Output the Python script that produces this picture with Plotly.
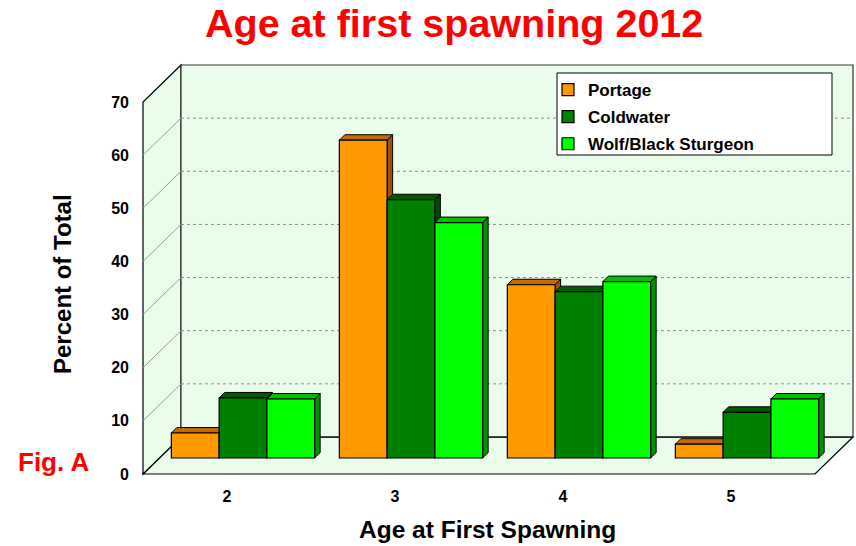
import plotly.graph_objects as go

# ---- data -------------------------------------------------------------
AGES = ["2", "3", "4", "5"]
SERIES = ["Portage", "Coldwater", "Wolf/Black Sturgeon"]
PORTAGE = [4.7, 59.8, 32.6, 2.6]
COLDWATER = [11.3, 48.6, 31.3, 8.6]
WOLF_BLACK = [11.1, 44.3, 33.2, 11.1]
VALUES = [PORTAGE, COLDWATER, WOLF_BLACK]

FRONT = ["#FF9900", "#008000", "#00FF00"]
TOP = ["#C46A00", "#005A00", "#00BE00"]
SIDE = ["#9C5400", "#004A00", "#009200"]

Y_MAX = 70
Y_TICKS = list(range(0, Y_MAX + 1, 10))

# ---- layout geometry (pixels) ------------------------------------------
W, H = 856, 546
PX_CAT = 168.0                 # px per category on the front plane
PX_UNIT = 372.0 / Y_MAX        # px per percent
FRONT_X, FRONT_Y = 143, 474    # px of (x=-0.5, y=0) on the front plane
BAR_SHIFT = 16                 # depth of the bar plane (px)
BAR_DEPTH = 5.5                # depth of each bar (px)
BACK_DX, BACK_DY = 38, 37      # depth of the back wall (px)
BOX = dict(left=140, right=856, top=61, bottom=477)
BARGAP = 0.147
BW = (1 - BARGAP) / len(SERIES)

dom_x = [BOX["left"] / W, BOX["right"] / W]
dom_y = [1 - BOX["bottom"] / H, 1 - BOX["top"] / H]


def xr(origin_px):
    return [-0.5 + (BOX["left"] - origin_px) / PX_CAT,
            -0.5 + (BOX["right"] - origin_px) / PX_CAT]


def yr(origin_px):
    return [(origin_px - BOX["bottom"]) / PX_UNIT,
            (origin_px - BOX["top"]) / PX_UNIT]


DXB, DYB = BACK_DX / PX_CAT, BACK_DY / PX_UNIT
DXD, DYD = BAR_DEPTH / PX_CAT, BAR_DEPTH / PX_UNIT
X_LO, X_HI = -0.5, len(AGES) - 0.5

fig = go.Figure()
xpos = list(range(len(AGES)))
for name, vals, col in zip(SERIES, VALUES, FRONT):
    fig.add_trace(go.Bar(
        x=xpos, y=vals, name=name, xaxis="x2", yaxis="y2",
        marker=dict(color=col, line=dict(color="#000000", width=1.2)),
        legendgroup=name,
    ))

shapes = []
wall = "#EAFDEA"
# floor, left wall, back wall
shapes.append(dict(type="path", xref="x", yref="y", layer="below",
                   path=f"M{X_LO},0 L{X_HI},0 L{X_HI+DXB},{DYB} L{X_LO+DXB},{DYB} Z",
                   fillcolor=wall, line=dict(color="#000000", width=1.2)))
shapes.append(dict(type="path", xref="x", yref="y", layer="below",
                   path=f"M{X_LO},0 L{X_LO},{Y_MAX} L{X_LO+DXB},{Y_MAX+DYB} L{X_LO+DXB},{DYB} Z",
                   fillcolor=wall, line=dict(color="#000000", width=1.2)))
shapes.append(dict(type="rect", xref="x", yref="y", layer="below",
                   x0=X_LO + DXB, x1=X_HI + DXB, y0=DYB, y1=Y_MAX + DYB,
                   fillcolor=wall, line=dict(color="#333333", width=1.2)))
# gridlines on the back wall and the left wall
for t in Y_TICKS[1:-1]:
    shapes.append(dict(type="line", xref="x", yref="y", layer="below",
                       x0=X_LO + DXB, x1=X_HI + DXB, y0=t + DYB, y1=t + DYB,
                       line=dict(color="#8A8A8A", width=1, dash="dot")))
    shapes.append(dict(type="line", xref="x", yref="y", layer="below",
                       x0=X_LO, x1=X_LO + DXB, y0=t, y1=t + DYB,
                       line=dict(color="#9A9A9A", width=1)))
shapes.append(dict(type="line", xref="x", yref="y", layer="below",
                   x0=X_LO + DXB, x1=X_HI + DXB, y0=DYB, y1=DYB,
                   line=dict(color="#000000", width=1.2)))

# top and side faces of every bar, left to right
for i in range(len(AGES)):
    for j, vals in enumerate(VALUES):
        c = i + (j - (len(SERIES) - 1) / 2) * BW
        x0, x1, v = c - BW / 2, c + BW / 2, vals[i]
        shapes.append(dict(type="path", xref="x2", yref="y2", layer="below",
                           path=f"M{x1},0 L{x1},{v} L{x1+DXD},{v+DYD} L{x1+DXD},{DYD} Z",
                           fillcolor=SIDE[j], line=dict(color="#000000", width=1)))
        shapes.append(dict(type="path", xref="x2", yref="y2", layer="below",
                           path=f"M{x0},{v} L{x1},{v} L{x1+DXD},{v+DYD} L{x0+DXD},{v+DYD} Z",
                           fillcolor=TOP[j], line=dict(color="#000000", width=1)))

# legend frame
shapes.append(dict(type="rect", xref="paper", yref="paper", layer="above",
                   x0=557 / W, x1=832 / W, y0=1 - 155 / H, y1=1 - 73 / H,
                   fillcolor="#FFFFFF", line=dict(color="#000000", width=1)))

BOLD = dict(family="Arial, Liberation Sans, sans-serif", color="#000000")

fig.update_layout(
    width=W, height=H,
    margin=dict(l=0, r=0, t=0, b=0, autoexpand=False),
    paper_bgcolor="#FFFFFF", plot_bgcolor="rgba(0,0,0,0)",
    barmode="group", bargap=BARGAP, bargroupgap=0,
    shapes=shapes,
    showlegend=True,
    legend=dict(x=548 / W, y=1 - 72 / H, xanchor="left", yanchor="top",
                bgcolor="rgba(0,0,0,0)", borderwidth=0,
                traceorder="grouped", tracegroupgap=2,
                font=dict(size=17, weight="bold", **BOLD)),
    xaxis=dict(domain=dom_x, range=xr(FRONT_X), tickvals=xpos, ticktext=AGES,
               showgrid=False, zeroline=False, showline=False, ticks="",
               ticklabelstandoff=8, fixedrange=True, automargin=False,
               tickfont=dict(size=16, weight="bold", **BOLD), anchor="y"),
    yaxis=dict(domain=dom_y, range=yr(FRONT_Y), tickvals=Y_TICKS,
               showgrid=False, zeroline=False, showline=False, ticks="",
               ticklabelstandoff=10, fixedrange=True, automargin=False,
               tickfont=dict(size=16, weight="bold", **BOLD), anchor="x"),
    xaxis2=dict(domain=dom_x, range=xr(FRONT_X + BAR_SHIFT), visible=False,
                anchor="y2", fixedrange=True, automargin=False),
    yaxis2=dict(domain=dom_y, range=yr(FRONT_Y - BAR_SHIFT), visible=False,
                anchor="x2", fixedrange=True, automargin=False),
    annotations=[
        dict(text="Age at first spawning 2012", xref="paper", yref="paper",
             x=454 / W, y=1 - 23 / H, xanchor="center", yanchor="middle",
             showarrow=False, font=dict(size=39.5, weight="bold",
                                        family="Arial, Liberation Sans, sans-serif",
                                        color="#FF0000")),
        dict(text="Percent of Total", xref="paper", yref="paper",
             x=62 / W, y=1 - 284 / H, xanchor="center", yanchor="middle",
             textangle=-90, showarrow=False,
             font=dict(size=24, weight="bold", **BOLD)),
        dict(text="Age at First Spawning", xref="paper", yref="paper",
             x=488 / W, y=1 - 529 / H, xanchor="center", yanchor="middle",
             showarrow=False, font=dict(size=24.5, weight="bold", **BOLD)),
        dict(text="Fig. A", xref="paper", yref="paper",
             x=54 / W, y=1 - 462 / H, xanchor="center", yanchor="middle",
             showarrow=False, font=dict(size=26, weight="bold",
                                        family="Arial, Liberation Sans, sans-serif",
                                        color="#FF0000")),
    ],
)

fig.write_html("out.html")
